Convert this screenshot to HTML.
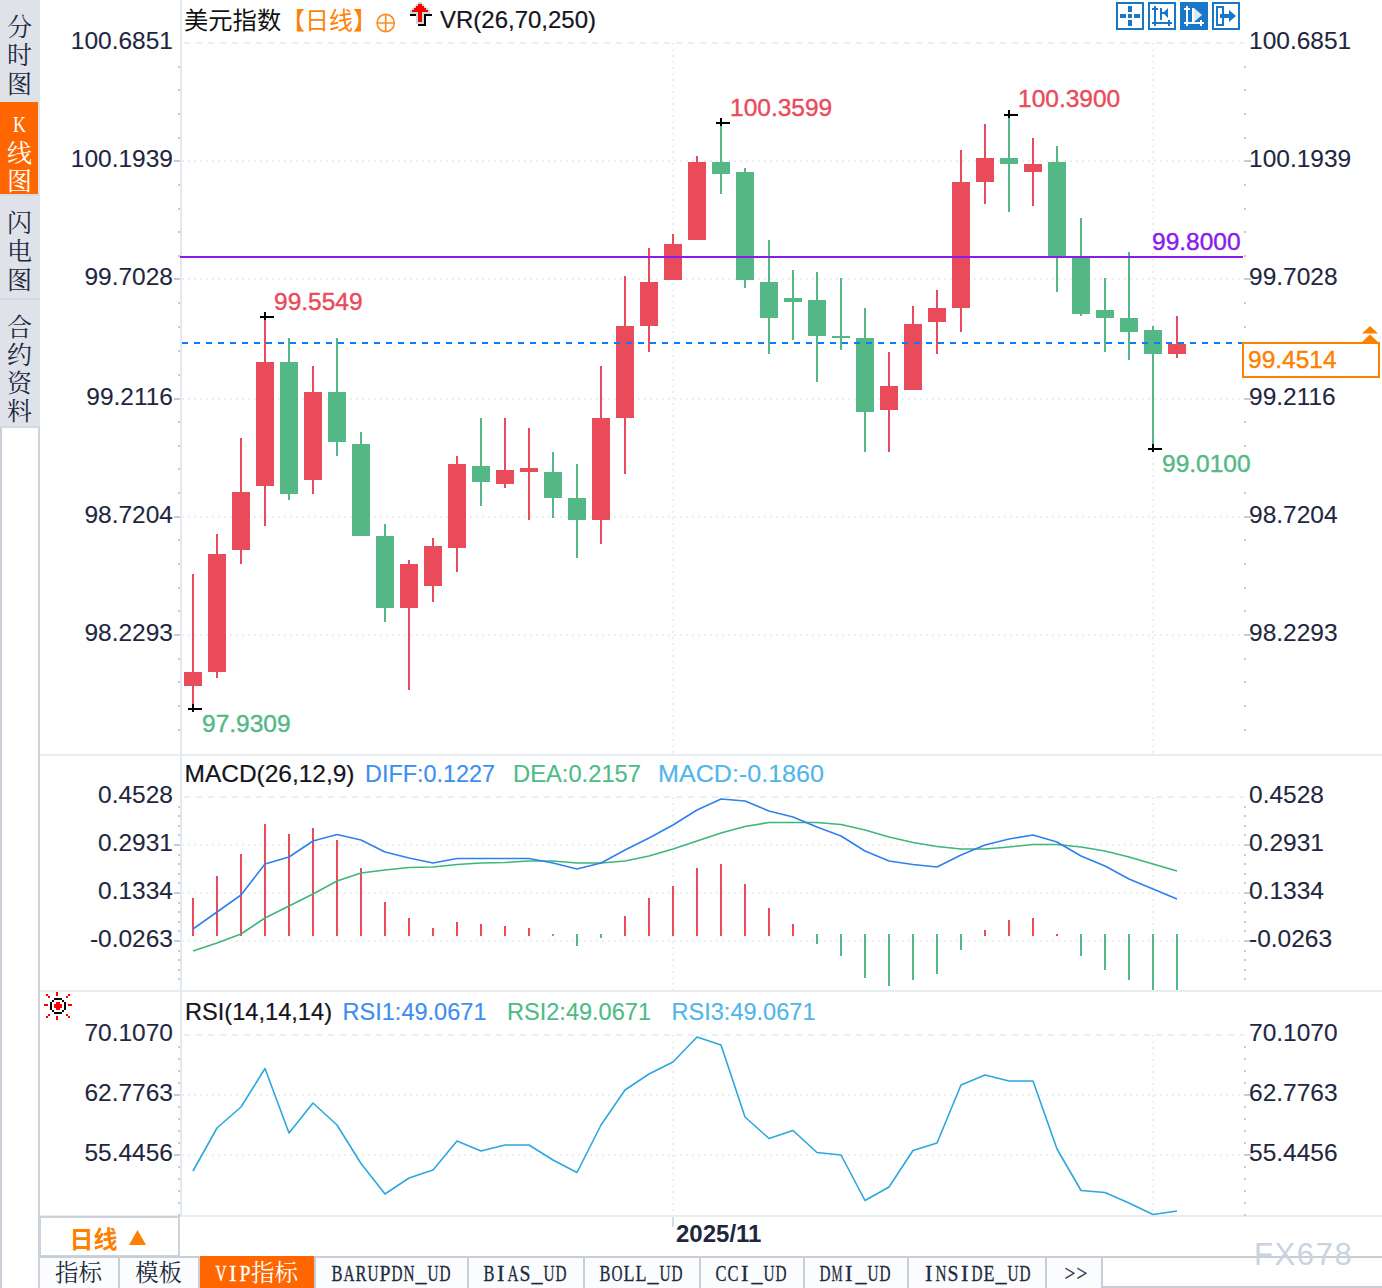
<!DOCTYPE html>
<html><head><meta charset="utf-8"><title>chart</title>
<style>html,body{margin:0;padding:0;background:#fff}svg{display:block}text{white-space:pre}</style></head>
<body><svg width="1382" height="1288" viewBox="0 0 1382 1288">
<rect x="0" y="0" width="1382" height="1288" fill="#ffffff"/>
<rect x="0" y="0" width="40" height="428" fill="#e0e2ea"/>
<rect x="0" y="428" width="2" height="860" fill="#cbced6"/>
<rect x="38" y="428" width="2" height="860" fill="#cfd2da"/>
<rect x="0" y="102" width="38" height="92" fill="#ff6600"/>
<rect x="0" y="194" width="40" height="2" fill="#d3dae4"/>
<rect x="0" y="298" width="40" height="2" fill="#d3dae4"/>
<rect x="0" y="426" width="40" height="2" fill="#d3dae4"/>
<g font-family="'Liberation Serif', 'Noto Serif CJK SC', serif" font-size="25" fill="#1e2a3e" text-anchor="middle">
<text x="19.5" y="36">分</text>
<text x="19.5" y="64">时</text>
<text x="19.5" y="92.5">图</text>
</g>
<text x="19.5" y="132" font-family="'Liberation Serif', serif" font-size="24" fill="#ffffff" text-anchor="middle" textLength="13" lengthAdjust="spacingAndGlyphs">K</text>
<g font-family="'Liberation Serif', 'Noto Serif CJK SC', serif" font-size="25" fill="#ffffff" text-anchor="middle">
<text x="19.5" y="162">线</text>
<text x="19.5" y="190">图</text>
</g>
<g font-family="'Liberation Serif', 'Noto Serif CJK SC', serif" font-size="25" fill="#1e2a3e" text-anchor="middle">
<text x="19.5" y="232">闪</text>
<text x="19.5" y="259.5">电</text>
<text x="19.5" y="288.5">图</text>
<text x="19.5" y="336">合</text>
<text x="19.5" y="364">约</text>
<text x="19.5" y="392">资</text>
<text x="19.5" y="420">料</text>
</g>
<line x1="182" y1="161" x2="1244" y2="161" stroke="#eaeff4" stroke-width="2" stroke-dasharray="2 4"/>
<line x1="182" y1="279" x2="1244" y2="279" stroke="#eaeff4" stroke-width="2" stroke-dasharray="2 4"/>
<line x1="182" y1="399" x2="1244" y2="399" stroke="#eaeff4" stroke-width="2" stroke-dasharray="2 4"/>
<line x1="182" y1="517" x2="1244" y2="517" stroke="#eaeff4" stroke-width="2" stroke-dasharray="2 4"/>
<line x1="182" y1="635" x2="1244" y2="635" stroke="#eaeff4" stroke-width="2" stroke-dasharray="2 4"/>
<line x1="182" y1="845" x2="1244" y2="845" stroke="#eaeff4" stroke-width="2" stroke-dasharray="2 4"/>
<line x1="182" y1="893" x2="1244" y2="893" stroke="#eaeff4" stroke-width="2" stroke-dasharray="2 4"/>
<line x1="182" y1="941" x2="1244" y2="941" stroke="#eaeff4" stroke-width="2" stroke-dasharray="2 4"/>
<line x1="182" y1="1095" x2="1244" y2="1095" stroke="#eaeff4" stroke-width="2" stroke-dasharray="2 4"/>
<line x1="182" y1="1155" x2="1244" y2="1155" stroke="#eaeff4" stroke-width="2" stroke-dasharray="2 4"/>
<line x1="184" y1="43" x2="1244" y2="43" stroke="#eaeff4" stroke-width="2" stroke-dasharray="6 6"/>
<line x1="184" y1="797" x2="1244" y2="797" stroke="#eaeff4" stroke-width="2" stroke-dasharray="6 6"/>
<line x1="184" y1="1035" x2="1244" y2="1035" stroke="#eaeff4" stroke-width="2" stroke-dasharray="6 6"/>
<line x1="673" y1="43" x2="673" y2="754" stroke="#eaeff4" stroke-width="2" stroke-dasharray="2 4"/>
<line x1="673" y1="797" x2="673" y2="990" stroke="#eaeff4" stroke-width="2" stroke-dasharray="2 4"/>
<line x1="673" y1="1035" x2="673" y2="1215" stroke="#eaeff4" stroke-width="2" stroke-dasharray="2 4"/>
<line x1="1153" y1="43" x2="1153" y2="754" stroke="#eaeff4" stroke-width="2" stroke-dasharray="2 4"/>
<line x1="1153" y1="797" x2="1153" y2="990" stroke="#eaeff4" stroke-width="2" stroke-dasharray="2 4"/>
<line x1="1153" y1="1035" x2="1153" y2="1215" stroke="#eaeff4" stroke-width="2" stroke-dasharray="2 4"/>
<rect x="40" y="754" width="1342" height="2" fill="#e8edf2"/>
<rect x="40" y="990" width="1342" height="2" fill="#e8edf2"/>
<rect x="40" y="1215" width="1342" height="2" fill="#e8edf2"/>
<rect x="180" y="0" width="2" height="1216" fill="#e3e9f0"/>
<rect x="178" y="66" width="2" height="2" fill="#c3cbd6"/>
<rect x="1244" y="66" width="2" height="2" fill="#c3cbd6"/>
<rect x="178" y="89" width="2" height="2" fill="#c3cbd6"/>
<rect x="1244" y="89" width="2" height="2" fill="#c3cbd6"/>
<rect x="178" y="113" width="2" height="2" fill="#c3cbd6"/>
<rect x="1244" y="113" width="2" height="2" fill="#c3cbd6"/>
<rect x="178" y="137" width="2" height="2" fill="#c3cbd6"/>
<rect x="1244" y="137" width="2" height="2" fill="#c3cbd6"/>
<rect x="174" y="160" width="6" height="2" fill="#c3cbd6"/>
<rect x="1244" y="160" width="7" height="2" fill="#c3cbd6"/>
<rect x="178" y="184" width="2" height="2" fill="#c3cbd6"/>
<rect x="1244" y="184" width="2" height="2" fill="#c3cbd6"/>
<rect x="178" y="208" width="2" height="2" fill="#c3cbd6"/>
<rect x="1244" y="208" width="2" height="2" fill="#c3cbd6"/>
<rect x="178" y="231" width="2" height="2" fill="#c3cbd6"/>
<rect x="1244" y="231" width="2" height="2" fill="#c3cbd6"/>
<rect x="178" y="255" width="2" height="2" fill="#c3cbd6"/>
<rect x="1244" y="255" width="2" height="2" fill="#c3cbd6"/>
<rect x="174" y="278" width="6" height="2" fill="#c3cbd6"/>
<rect x="1244" y="278" width="7" height="2" fill="#c3cbd6"/>
<rect x="178" y="302" width="2" height="2" fill="#c3cbd6"/>
<rect x="1244" y="302" width="2" height="2" fill="#c3cbd6"/>
<rect x="178" y="326" width="2" height="2" fill="#c3cbd6"/>
<rect x="1244" y="326" width="2" height="2" fill="#c3cbd6"/>
<rect x="178" y="350" width="2" height="2" fill="#c3cbd6"/>
<rect x="1244" y="350" width="2" height="2" fill="#c3cbd6"/>
<rect x="178" y="374" width="2" height="2" fill="#c3cbd6"/>
<rect x="1244" y="374" width="2" height="2" fill="#c3cbd6"/>
<rect x="174" y="398" width="6" height="2" fill="#c3cbd6"/>
<rect x="1244" y="398" width="7" height="2" fill="#c3cbd6"/>
<rect x="178" y="421" width="2" height="2" fill="#c3cbd6"/>
<rect x="1244" y="421" width="2" height="2" fill="#c3cbd6"/>
<rect x="178" y="445" width="2" height="2" fill="#c3cbd6"/>
<rect x="1244" y="445" width="2" height="2" fill="#c3cbd6"/>
<rect x="178" y="468" width="2" height="2" fill="#c3cbd6"/>
<rect x="1244" y="468" width="2" height="2" fill="#c3cbd6"/>
<rect x="178" y="492" width="2" height="2" fill="#c3cbd6"/>
<rect x="1244" y="492" width="2" height="2" fill="#c3cbd6"/>
<rect x="174" y="516" width="6" height="2" fill="#c3cbd6"/>
<rect x="1244" y="516" width="7" height="2" fill="#c3cbd6"/>
<rect x="178" y="539" width="2" height="2" fill="#c3cbd6"/>
<rect x="1244" y="539" width="2" height="2" fill="#c3cbd6"/>
<rect x="178" y="563" width="2" height="2" fill="#c3cbd6"/>
<rect x="1244" y="563" width="2" height="2" fill="#c3cbd6"/>
<rect x="178" y="587" width="2" height="2" fill="#c3cbd6"/>
<rect x="1244" y="587" width="2" height="2" fill="#c3cbd6"/>
<rect x="178" y="610" width="2" height="2" fill="#c3cbd6"/>
<rect x="1244" y="610" width="2" height="2" fill="#c3cbd6"/>
<rect x="174" y="634" width="6" height="2" fill="#c3cbd6"/>
<rect x="1244" y="634" width="7" height="2" fill="#c3cbd6"/>
<rect x="178" y="658" width="2" height="2" fill="#c3cbd6"/>
<rect x="1244" y="658" width="2" height="2" fill="#c3cbd6"/>
<rect x="178" y="681" width="2" height="2" fill="#c3cbd6"/>
<rect x="1244" y="681" width="2" height="2" fill="#c3cbd6"/>
<rect x="178" y="705" width="2" height="2" fill="#c3cbd6"/>
<rect x="1244" y="705" width="2" height="2" fill="#c3cbd6"/>
<rect x="178" y="729" width="2" height="2" fill="#c3cbd6"/>
<rect x="1244" y="729" width="2" height="2" fill="#c3cbd6"/>
<rect x="178" y="806" width="2" height="2" fill="#c3cbd6"/>
<rect x="1244" y="806" width="2" height="2" fill="#c3cbd6"/>
<rect x="178" y="815" width="2" height="2" fill="#c3cbd6"/>
<rect x="1244" y="815" width="2" height="2" fill="#c3cbd6"/>
<rect x="178" y="825" width="2" height="2" fill="#c3cbd6"/>
<rect x="1244" y="825" width="2" height="2" fill="#c3cbd6"/>
<rect x="178" y="834" width="2" height="2" fill="#c3cbd6"/>
<rect x="1244" y="834" width="2" height="2" fill="#c3cbd6"/>
<rect x="174" y="844" width="6" height="2" fill="#c3cbd6"/>
<rect x="1244" y="844" width="7" height="2" fill="#c3cbd6"/>
<rect x="178" y="854" width="2" height="2" fill="#c3cbd6"/>
<rect x="1244" y="854" width="2" height="2" fill="#c3cbd6"/>
<rect x="178" y="863" width="2" height="2" fill="#c3cbd6"/>
<rect x="1244" y="863" width="2" height="2" fill="#c3cbd6"/>
<rect x="178" y="873" width="2" height="2" fill="#c3cbd6"/>
<rect x="1244" y="873" width="2" height="2" fill="#c3cbd6"/>
<rect x="178" y="882" width="2" height="2" fill="#c3cbd6"/>
<rect x="1244" y="882" width="2" height="2" fill="#c3cbd6"/>
<rect x="174" y="892" width="6" height="2" fill="#c3cbd6"/>
<rect x="1244" y="892" width="7" height="2" fill="#c3cbd6"/>
<rect x="178" y="902" width="2" height="2" fill="#c3cbd6"/>
<rect x="1244" y="902" width="2" height="2" fill="#c3cbd6"/>
<rect x="178" y="911" width="2" height="2" fill="#c3cbd6"/>
<rect x="1244" y="911" width="2" height="2" fill="#c3cbd6"/>
<rect x="178" y="921" width="2" height="2" fill="#c3cbd6"/>
<rect x="1244" y="921" width="2" height="2" fill="#c3cbd6"/>
<rect x="178" y="930" width="2" height="2" fill="#c3cbd6"/>
<rect x="1244" y="930" width="2" height="2" fill="#c3cbd6"/>
<rect x="174" y="940" width="6" height="2" fill="#c3cbd6"/>
<rect x="1244" y="940" width="7" height="2" fill="#c3cbd6"/>
<rect x="178" y="950" width="2" height="2" fill="#c3cbd6"/>
<rect x="1244" y="950" width="2" height="2" fill="#c3cbd6"/>
<rect x="178" y="959" width="2" height="2" fill="#c3cbd6"/>
<rect x="1244" y="959" width="2" height="2" fill="#c3cbd6"/>
<rect x="178" y="969" width="2" height="2" fill="#c3cbd6"/>
<rect x="1244" y="969" width="2" height="2" fill="#c3cbd6"/>
<rect x="178" y="978" width="2" height="2" fill="#c3cbd6"/>
<rect x="1244" y="978" width="2" height="2" fill="#c3cbd6"/>
<rect x="178" y="1046" width="2" height="2" fill="#c3cbd6"/>
<rect x="1244" y="1046" width="2" height="2" fill="#c3cbd6"/>
<rect x="178" y="1058" width="2" height="2" fill="#c3cbd6"/>
<rect x="1244" y="1058" width="2" height="2" fill="#c3cbd6"/>
<rect x="178" y="1070" width="2" height="2" fill="#c3cbd6"/>
<rect x="1244" y="1070" width="2" height="2" fill="#c3cbd6"/>
<rect x="178" y="1082" width="2" height="2" fill="#c3cbd6"/>
<rect x="1244" y="1082" width="2" height="2" fill="#c3cbd6"/>
<rect x="174" y="1094" width="6" height="2" fill="#c3cbd6"/>
<rect x="1244" y="1094" width="7" height="2" fill="#c3cbd6"/>
<rect x="178" y="1106" width="2" height="2" fill="#c3cbd6"/>
<rect x="1244" y="1106" width="2" height="2" fill="#c3cbd6"/>
<rect x="178" y="1118" width="2" height="2" fill="#c3cbd6"/>
<rect x="1244" y="1118" width="2" height="2" fill="#c3cbd6"/>
<rect x="178" y="1130" width="2" height="2" fill="#c3cbd6"/>
<rect x="1244" y="1130" width="2" height="2" fill="#c3cbd6"/>
<rect x="178" y="1142" width="2" height="2" fill="#c3cbd6"/>
<rect x="1244" y="1142" width="2" height="2" fill="#c3cbd6"/>
<rect x="174" y="1154" width="6" height="2" fill="#c3cbd6"/>
<rect x="1244" y="1154" width="7" height="2" fill="#c3cbd6"/>
<rect x="178" y="1166" width="2" height="2" fill="#c3cbd6"/>
<rect x="1244" y="1166" width="2" height="2" fill="#c3cbd6"/>
<rect x="178" y="1178" width="2" height="2" fill="#c3cbd6"/>
<rect x="1244" y="1178" width="2" height="2" fill="#c3cbd6"/>
<rect x="178" y="1190" width="2" height="2" fill="#c3cbd6"/>
<rect x="1244" y="1190" width="2" height="2" fill="#c3cbd6"/>
<rect x="178" y="1202" width="2" height="2" fill="#c3cbd6"/>
<rect x="1244" y="1202" width="2" height="2" fill="#c3cbd6"/>
<rect x="178" y="1214" width="2" height="2" fill="#c3cbd6"/>
<rect x="1244" y="1214" width="2" height="2" fill="#c3cbd6"/>
<rect x="192" y="574" width="2" height="134" fill="#e94b5b"/>
<rect x="184" y="672" width="18" height="14" fill="#e94b5b"/>
<rect x="216" y="534" width="2" height="144" fill="#e94b5b"/>
<rect x="208" y="554" width="18" height="118" fill="#e94b5b"/>
<rect x="240" y="438" width="2" height="126" fill="#e94b5b"/>
<rect x="232" y="492" width="18" height="58" fill="#e94b5b"/>
<rect x="264" y="317" width="2" height="209" fill="#e94b5b"/>
<rect x="256" y="362" width="18" height="124" fill="#e94b5b"/>
<rect x="288" y="338" width="2" height="162" fill="#54b886"/>
<rect x="280" y="362" width="18" height="132" fill="#54b886"/>
<rect x="312" y="366" width="2" height="128" fill="#e94b5b"/>
<rect x="304" y="392" width="18" height="88" fill="#e94b5b"/>
<rect x="336" y="338" width="2" height="118" fill="#54b886"/>
<rect x="328" y="392" width="18" height="50" fill="#54b886"/>
<rect x="360" y="432" width="2" height="104" fill="#54b886"/>
<rect x="352" y="444" width="18" height="92" fill="#54b886"/>
<rect x="384" y="524" width="2" height="98" fill="#54b886"/>
<rect x="376" y="536" width="18" height="72" fill="#54b886"/>
<rect x="408" y="560" width="2" height="130" fill="#e94b5b"/>
<rect x="400" y="564" width="18" height="44" fill="#e94b5b"/>
<rect x="432" y="538" width="2" height="64" fill="#e94b5b"/>
<rect x="424" y="546" width="18" height="40" fill="#e94b5b"/>
<rect x="456" y="456" width="2" height="116" fill="#e94b5b"/>
<rect x="448" y="464" width="18" height="84" fill="#e94b5b"/>
<rect x="480" y="418" width="2" height="88" fill="#54b886"/>
<rect x="472" y="466" width="18" height="16" fill="#54b886"/>
<rect x="504" y="418" width="2" height="70" fill="#e94b5b"/>
<rect x="496" y="470" width="18" height="14" fill="#e94b5b"/>
<rect x="528" y="428" width="2" height="92" fill="#e94b5b"/>
<rect x="520" y="468" width="18" height="4" fill="#e94b5b"/>
<rect x="552" y="452" width="2" height="66" fill="#54b886"/>
<rect x="544" y="472" width="18" height="26" fill="#54b886"/>
<rect x="576" y="464" width="2" height="94" fill="#54b886"/>
<rect x="568" y="498" width="18" height="22" fill="#54b886"/>
<rect x="600" y="366" width="2" height="178" fill="#e94b5b"/>
<rect x="592" y="418" width="18" height="102" fill="#e94b5b"/>
<rect x="624" y="276" width="2" height="198" fill="#e94b5b"/>
<rect x="616" y="326" width="18" height="92" fill="#e94b5b"/>
<rect x="648" y="248" width="2" height="104" fill="#e94b5b"/>
<rect x="640" y="282" width="18" height="44" fill="#e94b5b"/>
<rect x="672" y="234" width="2" height="46" fill="#e94b5b"/>
<rect x="664" y="244" width="18" height="36" fill="#e94b5b"/>
<rect x="696" y="156" width="2" height="84" fill="#e94b5b"/>
<rect x="688" y="162" width="18" height="78" fill="#e94b5b"/>
<rect x="720" y="123" width="2" height="71" fill="#54b886"/>
<rect x="712" y="162" width="18" height="12" fill="#54b886"/>
<rect x="744" y="168" width="2" height="120" fill="#54b886"/>
<rect x="736" y="172" width="18" height="108" fill="#54b886"/>
<rect x="768" y="240" width="2" height="114" fill="#54b886"/>
<rect x="760" y="282" width="18" height="36" fill="#54b886"/>
<rect x="792" y="270" width="2" height="70" fill="#54b886"/>
<rect x="784" y="298" width="18" height="4" fill="#54b886"/>
<rect x="816" y="272" width="2" height="110" fill="#54b886"/>
<rect x="808" y="300" width="18" height="36" fill="#54b886"/>
<rect x="840" y="278" width="2" height="72" fill="#54b886"/>
<rect x="832" y="336" width="18" height="2" fill="#54b886"/>
<rect x="864" y="308" width="2" height="144" fill="#54b886"/>
<rect x="856" y="338" width="18" height="74" fill="#54b886"/>
<rect x="888" y="352" width="2" height="100" fill="#e94b5b"/>
<rect x="880" y="386" width="18" height="24" fill="#e94b5b"/>
<rect x="912" y="306" width="2" height="84" fill="#e94b5b"/>
<rect x="904" y="324" width="18" height="66" fill="#e94b5b"/>
<rect x="936" y="290" width="2" height="64" fill="#e94b5b"/>
<rect x="928" y="308" width="18" height="14" fill="#e94b5b"/>
<rect x="960" y="150" width="2" height="182" fill="#e94b5b"/>
<rect x="952" y="182" width="18" height="126" fill="#e94b5b"/>
<rect x="984" y="124" width="2" height="80" fill="#e94b5b"/>
<rect x="976" y="158" width="18" height="24" fill="#e94b5b"/>
<rect x="1008" y="115" width="2" height="97" fill="#54b886"/>
<rect x="1000" y="158" width="18" height="6" fill="#54b886"/>
<rect x="1032" y="138" width="2" height="68" fill="#e94b5b"/>
<rect x="1024" y="164" width="18" height="8" fill="#e94b5b"/>
<rect x="1056" y="146" width="2" height="146" fill="#54b886"/>
<rect x="1048" y="162" width="18" height="94" fill="#54b886"/>
<rect x="1080" y="218" width="2" height="98" fill="#54b886"/>
<rect x="1072" y="257" width="18" height="57" fill="#54b886"/>
<rect x="1104" y="278" width="2" height="74" fill="#54b886"/>
<rect x="1096" y="310" width="18" height="8" fill="#54b886"/>
<rect x="1128" y="252" width="2" height="108" fill="#54b886"/>
<rect x="1120" y="318" width="18" height="14" fill="#54b886"/>
<rect x="1152" y="326" width="2" height="123" fill="#54b886"/>
<rect x="1144" y="330" width="18" height="24" fill="#54b886"/>
<rect x="1176" y="316" width="2" height="42" fill="#e94b5b"/>
<rect x="1168" y="344" width="18" height="10" fill="#e94b5b"/>
<rect x="180" y="256" width="1063" height="2" fill="#8a1be8"/>
<line x1="182" y1="343" x2="1242" y2="343" stroke="#0a7ef6" stroke-width="2" stroke-dasharray="6 6"/>
<rect x="260" y="316" width="14" height="2" fill="#000"/>
<rect x="264" y="312" width="2" height="8" fill="#000"/>
<rect x="716" y="122" width="14" height="2" fill="#000"/>
<rect x="720" y="118" width="2" height="8" fill="#000"/>
<rect x="1004" y="114" width="14" height="2" fill="#000"/>
<rect x="1008" y="110" width="2" height="8" fill="#000"/>
<rect x="1148" y="448" width="14" height="2" fill="#000"/>
<rect x="1152" y="444" width="2" height="8" fill="#000"/>
<rect x="188" y="708" width="14" height="2" fill="#000"/>
<rect x="192" y="704" width="2" height="8" fill="#000"/>
<rect x="192" y="898" width="2" height="38" fill="#e94b5b"/>
<rect x="216" y="876" width="2" height="60" fill="#e94b5b"/>
<rect x="240" y="854" width="2" height="82" fill="#e94b5b"/>
<rect x="264" y="824" width="2" height="112" fill="#e94b5b"/>
<rect x="288" y="834" width="2" height="102" fill="#e94b5b"/>
<rect x="312" y="828" width="2" height="108" fill="#e94b5b"/>
<rect x="336" y="840" width="2" height="96" fill="#e94b5b"/>
<rect x="360" y="868" width="2" height="68" fill="#e94b5b"/>
<rect x="384" y="902" width="2" height="34" fill="#e94b5b"/>
<rect x="408" y="918" width="2" height="18" fill="#e94b5b"/>
<rect x="432" y="928" width="2" height="8" fill="#e94b5b"/>
<rect x="456" y="922" width="2" height="14" fill="#e94b5b"/>
<rect x="480" y="924" width="2" height="12" fill="#e94b5b"/>
<rect x="504" y="926" width="2" height="10" fill="#e94b5b"/>
<rect x="528" y="928" width="2" height="8" fill="#e94b5b"/>
<rect x="552" y="934" width="2" height="2" fill="#54b886"/>
<rect x="576" y="934" width="2" height="12" fill="#54b886"/>
<rect x="600" y="934" width="2" height="4" fill="#54b886"/>
<rect x="624" y="916" width="2" height="20" fill="#e94b5b"/>
<rect x="648" y="898" width="2" height="38" fill="#e94b5b"/>
<rect x="672" y="886" width="2" height="50" fill="#e94b5b"/>
<rect x="696" y="868" width="2" height="68" fill="#e94b5b"/>
<rect x="720" y="864" width="2" height="72" fill="#e94b5b"/>
<rect x="744" y="884" width="2" height="52" fill="#e94b5b"/>
<rect x="768" y="908" width="2" height="28" fill="#e94b5b"/>
<rect x="792" y="924" width="2" height="12" fill="#e94b5b"/>
<rect x="816" y="934" width="2" height="10" fill="#54b886"/>
<rect x="840" y="934" width="2" height="22" fill="#54b886"/>
<rect x="864" y="934" width="2" height="44" fill="#54b886"/>
<rect x="888" y="934" width="2" height="52" fill="#54b886"/>
<rect x="912" y="934" width="2" height="46" fill="#54b886"/>
<rect x="936" y="934" width="2" height="40" fill="#54b886"/>
<rect x="960" y="934" width="2" height="16" fill="#54b886"/>
<rect x="984" y="930" width="2" height="6" fill="#e94b5b"/>
<rect x="1008" y="920" width="2" height="16" fill="#e94b5b"/>
<rect x="1032" y="918" width="2" height="18" fill="#e94b5b"/>
<rect x="1056" y="934" width="2" height="2" fill="#e94b5b"/>
<rect x="1080" y="934" width="2" height="22" fill="#54b886"/>
<rect x="1104" y="934" width="2" height="36" fill="#54b886"/>
<rect x="1128" y="934" width="2" height="46" fill="#54b886"/>
<rect x="1152" y="934" width="2" height="56" fill="#54b886"/>
<rect x="1176" y="934" width="2" height="56" fill="#54b886"/>
<polyline points="193,951 217,943 241,934 265,918 289,906 313,894 337,881 361,873 385,870 409,867.5 433,867 457,864.5 481,863 505,862.5 529,861 553,861 577,863 601,863 625,861 649,856 673,849 697,841 721,833 745,826.5 769,822.5 793,822.5 817,822.5 841,824.5 865,830 889,837 913,842.5 937,846.5 961,849 985,849 1009,847 1033,844.5 1057,844.5 1081,847 1105,851 1129,857 1153,864 1177,871" fill="none" stroke="#3fb57a" stroke-width="1.6" stroke-linejoin="round"/>
<polyline points="193,929 217,912 241,895 265,864 289,857 313,841 337,834.5 361,840 385,852 409,858 433,863 457,858.5 481,858.5 505,858.5 529,858.5 553,863 577,869 601,863 625,850 649,838 673,825 697,810 721,799 745,801 769,811 793,817 817,827 841,836 865,851 889,861 913,864.5 937,867 961,855 985,845 1009,839 1033,835 1057,842 1081,856 1105,866 1129,879 1153,889 1177,899" fill="none" stroke="#2f80ee" stroke-width="1.6" stroke-linejoin="round"/>
<polyline points="193,1171 217,1128 241,1107 265,1068.5 289,1133 313,1103 337,1125 361,1163.5 385,1194 409,1178 433,1170 457,1141 481,1151 505,1145 529,1145 553,1160 577,1172.5 601,1125 625,1090 649,1074 673,1062 697,1037 721,1045 745,1117 769,1138.5 793,1130.5 817,1152.5 841,1155 865,1200.5 889,1187 913,1150.5 937,1143 961,1085 985,1075 1009,1081 1033,1081 1057,1149 1081,1190.5 1105,1192.5 1129,1203 1153,1214.5 1177,1211" fill="none" stroke="#2ea6de" stroke-width="1.6" stroke-linejoin="round"/>
<text x="173" y="49" font-family="'Liberation Sans', sans-serif" font-size="24.5" fill="#1f2740" text-anchor="end" font-weight="normal" stroke="#1f2740" stroke-width="0.1">100.6851</text>
<text x="1249" y="49" font-family="'Liberation Sans', sans-serif" font-size="24.5" fill="#1f2740" text-anchor="start" font-weight="normal" stroke="#1f2740" stroke-width="0.1">100.6851</text>
<text x="173" y="167" font-family="'Liberation Sans', sans-serif" font-size="24.5" fill="#1f2740" text-anchor="end" font-weight="normal" stroke="#1f2740" stroke-width="0.1">100.1939</text>
<text x="1249" y="167" font-family="'Liberation Sans', sans-serif" font-size="24.5" fill="#1f2740" text-anchor="start" font-weight="normal" stroke="#1f2740" stroke-width="0.1">100.1939</text>
<text x="173" y="285" font-family="'Liberation Sans', sans-serif" font-size="24.5" fill="#1f2740" text-anchor="end" font-weight="normal" stroke="#1f2740" stroke-width="0.1">99.7028</text>
<text x="1249" y="285" font-family="'Liberation Sans', sans-serif" font-size="24.5" fill="#1f2740" text-anchor="start" font-weight="normal" stroke="#1f2740" stroke-width="0.1">99.7028</text>
<text x="173" y="405" font-family="'Liberation Sans', sans-serif" font-size="24.5" fill="#1f2740" text-anchor="end" font-weight="normal" stroke="#1f2740" stroke-width="0.1">99.2116</text>
<text x="1249" y="405" font-family="'Liberation Sans', sans-serif" font-size="24.5" fill="#1f2740" text-anchor="start" font-weight="normal" stroke="#1f2740" stroke-width="0.1">99.2116</text>
<text x="173" y="523" font-family="'Liberation Sans', sans-serif" font-size="24.5" fill="#1f2740" text-anchor="end" font-weight="normal" stroke="#1f2740" stroke-width="0.1">98.7204</text>
<text x="1249" y="523" font-family="'Liberation Sans', sans-serif" font-size="24.5" fill="#1f2740" text-anchor="start" font-weight="normal" stroke="#1f2740" stroke-width="0.1">98.7204</text>
<text x="173" y="641" font-family="'Liberation Sans', sans-serif" font-size="24.5" fill="#1f2740" text-anchor="end" font-weight="normal" stroke="#1f2740" stroke-width="0.1">98.2293</text>
<text x="1249" y="641" font-family="'Liberation Sans', sans-serif" font-size="24.5" fill="#1f2740" text-anchor="start" font-weight="normal" stroke="#1f2740" stroke-width="0.1">98.2293</text>
<text x="173" y="803" font-family="'Liberation Sans', sans-serif" font-size="24.5" fill="#1f2740" text-anchor="end" font-weight="normal" stroke="#1f2740" stroke-width="0.1">0.4528</text>
<text x="1249" y="803" font-family="'Liberation Sans', sans-serif" font-size="24.5" fill="#1f2740" text-anchor="start" font-weight="normal" stroke="#1f2740" stroke-width="0.1">0.4528</text>
<text x="173" y="851" font-family="'Liberation Sans', sans-serif" font-size="24.5" fill="#1f2740" text-anchor="end" font-weight="normal" stroke="#1f2740" stroke-width="0.1">0.2931</text>
<text x="1249" y="851" font-family="'Liberation Sans', sans-serif" font-size="24.5" fill="#1f2740" text-anchor="start" font-weight="normal" stroke="#1f2740" stroke-width="0.1">0.2931</text>
<text x="173" y="899" font-family="'Liberation Sans', sans-serif" font-size="24.5" fill="#1f2740" text-anchor="end" font-weight="normal" stroke="#1f2740" stroke-width="0.1">0.1334</text>
<text x="1249" y="899" font-family="'Liberation Sans', sans-serif" font-size="24.5" fill="#1f2740" text-anchor="start" font-weight="normal" stroke="#1f2740" stroke-width="0.1">0.1334</text>
<text x="173" y="947" font-family="'Liberation Sans', sans-serif" font-size="24.5" fill="#1f2740" text-anchor="end" font-weight="normal" stroke="#1f2740" stroke-width="0.1">-0.0263</text>
<text x="1249" y="947" font-family="'Liberation Sans', sans-serif" font-size="24.5" fill="#1f2740" text-anchor="start" font-weight="normal" stroke="#1f2740" stroke-width="0.1">-0.0263</text>
<text x="173" y="1041" font-family="'Liberation Sans', sans-serif" font-size="24.5" fill="#1f2740" text-anchor="end" font-weight="normal" stroke="#1f2740" stroke-width="0.1">70.1070</text>
<text x="1249" y="1041" font-family="'Liberation Sans', sans-serif" font-size="24.5" fill="#1f2740" text-anchor="start" font-weight="normal" stroke="#1f2740" stroke-width="0.1">70.1070</text>
<text x="173" y="1101" font-family="'Liberation Sans', sans-serif" font-size="24.5" fill="#1f2740" text-anchor="end" font-weight="normal" stroke="#1f2740" stroke-width="0.1">62.7763</text>
<text x="1249" y="1101" font-family="'Liberation Sans', sans-serif" font-size="24.5" fill="#1f2740" text-anchor="start" font-weight="normal" stroke="#1f2740" stroke-width="0.1">62.7763</text>
<text x="173" y="1161" font-family="'Liberation Sans', sans-serif" font-size="24.5" fill="#1f2740" text-anchor="end" font-weight="normal" stroke="#1f2740" stroke-width="0.1">55.4456</text>
<text x="1249" y="1161" font-family="'Liberation Sans', sans-serif" font-size="24.5" fill="#1f2740" text-anchor="start" font-weight="normal" stroke="#1f2740" stroke-width="0.1">55.4456</text>
<text x="730" y="116" font-family="'Liberation Sans', sans-serif" font-size="24.5" fill="#e94b5b" text-anchor="start" font-weight="normal" stroke="#e94b5b" stroke-width="0.4">100.3599</text>
<text x="1018" y="107" font-family="'Liberation Sans', sans-serif" font-size="24.5" fill="#e94b5b" text-anchor="start" font-weight="normal" stroke="#e94b5b" stroke-width="0.4">100.3900</text>
<text x="274" y="310" font-family="'Liberation Sans', sans-serif" font-size="24.5" fill="#e94b5b" text-anchor="start" font-weight="normal" stroke="#e94b5b" stroke-width="0.4">99.5549</text>
<text x="202" y="732" font-family="'Liberation Sans', sans-serif" font-size="24.5" fill="#54b886" text-anchor="start" font-weight="normal" stroke="#54b886" stroke-width="0.4">97.9309</text>
<text x="1162" y="472" font-family="'Liberation Sans', sans-serif" font-size="24.5" fill="#54b886" text-anchor="start" font-weight="normal" stroke="#54b886" stroke-width="0.4">99.0100</text>
<text x="1152" y="250" font-family="'Liberation Sans', sans-serif" font-size="24.5" fill="#8a1be8" text-anchor="start" font-weight="normal" stroke="#8a1be8" stroke-width="0.4">99.8000</text>
<rect x="1243" y="343" width="136" height="34" fill="#ffffff" stroke="#ff7f00" stroke-width="2"/>
<text x="1248" y="367.5" font-family="'Liberation Sans', sans-serif" font-size="24.5" fill="#ff7f00" text-anchor="start" font-weight="normal" stroke="#ff7f00" stroke-width="0.4">99.4514</text>
<path d="M1370 326 L1378 333.5 L1362 333.5 Z M1370 334.5 L1378 342 L1362 342 Z" fill="#ff7f00"/>
<text x="184" y="28.5" font-family="'Liberation Sans', 'Noto Sans CJK SC', sans-serif" font-size="24.3" fill="#111111">美元指数</text>
<text x="281" y="28.5" font-family="'Liberation Sans', 'Noto Sans CJK SC', sans-serif" font-size="24" fill="#ff8208">【日线】</text>
<g fill="none" stroke="#ff8a1a" stroke-width="1.6"><circle cx="385.7" cy="23" r="8.6"/><path d="M377 23H394.4M385.7 14.4V31.6"/></g>
<rect x="418" y="2" width="4" height="2" fill="#c9d9dc"/>
<rect x="416" y="4" width="8" height="2" fill="#c9d9dc"/>
<rect x="414" y="6" width="12" height="2" fill="#c9d9dc"/>
<rect x="412" y="8" width="16" height="2" fill="#c9d9dc"/>
<rect x="410" y="10" width="20" height="4" fill="#c9d9dc"/>
<rect x="416" y="14" width="8" height="10" fill="#c9d9dc"/>
<rect x="418" y="4" width="4" height="2" fill="#fe0000"/>
<rect x="416" y="6" width="8" height="2" fill="#fe0000"/>
<rect x="414" y="8" width="12" height="2" fill="#fe0000"/>
<rect x="412" y="10" width="16" height="2" fill="#fe0000"/>
<rect x="418" y="12" width="4" height="10" fill="#fe0000"/>
<rect x="410" y="14" width="6" height="2" fill="#000000"/>
<rect x="424" y="14" width="8" height="2" fill="#000000"/>
<rect x="424" y="16" width="2" height="10" fill="#000000"/>
<rect x="418" y="24" width="8" height="2" fill="#000000"/>
<text x="440" y="27.5" font-family="'Liberation Sans', sans-serif" font-size="24.5" fill="#141420" text-anchor="start" font-weight="normal" textLength="156" lengthAdjust="spacingAndGlyphs" stroke="#141420" stroke-width="0.2">VR(26,70,250)</text>
<text x="184.5" y="782" font-family="'Liberation Sans', sans-serif" font-size="24.5" fill="#141420" text-anchor="start" font-weight="normal" textLength="170" lengthAdjust="spacingAndGlyphs" stroke="#141420" stroke-width="0.2">MACD(26,12,9)</text>
<text x="365" y="782" font-family="'Liberation Sans', sans-serif" font-size="24.5" fill="#3d8df2" text-anchor="start" font-weight="normal" textLength="130" lengthAdjust="spacingAndGlyphs" stroke="#3d8df2" stroke-width="0.15">DIFF:0.1227</text>
<text x="513" y="782" font-family="'Liberation Sans', sans-serif" font-size="24.5" fill="#4dbb86" text-anchor="start" font-weight="normal" textLength="128" lengthAdjust="spacingAndGlyphs" stroke="#4dbb86" stroke-width="0.15">DEA:0.2157</text>
<text x="658" y="782" font-family="'Liberation Sans', sans-serif" font-size="24.5" fill="#52b4ea" text-anchor="start" font-weight="normal" textLength="166" lengthAdjust="spacingAndGlyphs" stroke="#52b4ea" stroke-width="0.15">MACD:-0.1860</text>
<text x="185" y="1020" font-family="'Liberation Sans', sans-serif" font-size="24.5" fill="#141420" text-anchor="start" font-weight="normal" textLength="147" lengthAdjust="spacingAndGlyphs" stroke="#141420" stroke-width="0.2">RSI(14,14,14)</text>
<text x="342.5" y="1020" font-family="'Liberation Sans', sans-serif" font-size="24.5" fill="#3d8df2" text-anchor="start" font-weight="normal" textLength="144" lengthAdjust="spacingAndGlyphs" stroke="#3d8df2" stroke-width="0.15">RSI1:49.0671</text>
<text x="507" y="1020" font-family="'Liberation Sans', sans-serif" font-size="24.5" fill="#4dbb86" text-anchor="start" font-weight="normal" textLength="144" lengthAdjust="spacingAndGlyphs" stroke="#4dbb86" stroke-width="0.15">RSI2:49.0671</text>
<text x="671.5" y="1020" font-family="'Liberation Sans', sans-serif" font-size="24.5" fill="#52b4ea" text-anchor="start" font-weight="normal" textLength="144" lengthAdjust="spacingAndGlyphs" stroke="#52b4ea" stroke-width="0.15">RSI3:49.0671</text>
<rect x="54" y="998" width="8" height="2" fill="#000000"/>
<rect x="52" y="1000" width="2" height="2" fill="#000000"/>
<rect x="62" y="1000" width="2" height="2" fill="#000000"/>
<rect x="50" y="1002" width="2" height="8" fill="#000000"/>
<rect x="64" y="1002" width="2" height="8" fill="#000000"/>
<rect x="52" y="1010" width="2" height="2" fill="#000000"/>
<rect x="62" y="1010" width="2" height="2" fill="#000000"/>
<rect x="54" y="1012" width="8" height="2" fill="#000000"/>
<rect x="56" y="1002" width="4" height="8" fill="#ff0000"/>
<rect x="54" y="1004" width="8" height="4" fill="#ff0000"/>
<rect x="56" y="992" width="2" height="4" fill="#ff0000"/>
<rect x="56" y="1016" width="2" height="4" fill="#ff0000"/>
<rect x="44" y="1004" width="4" height="2" fill="#ff0000"/>
<rect x="68" y="1004" width="4" height="2" fill="#ff0000"/>
<rect x="46" y="994" width="2" height="2" fill="#ff0000"/>
<rect x="48" y="996" width="2" height="2" fill="#ff0000"/>
<rect x="68" y="994" width="2" height="2" fill="#ff0000"/>
<rect x="66" y="996" width="2" height="2" fill="#ff0000"/>
<rect x="48" y="1014" width="2" height="2" fill="#ff0000"/>
<rect x="46" y="1016" width="2" height="2" fill="#ff0000"/>
<rect x="66" y="1014" width="2" height="2" fill="#ff0000"/>
<rect x="68" y="1016" width="2" height="2" fill="#ff0000"/>
<rect x="1117" y="3" width="26" height="26" fill="#fff" stroke="#1877c9" stroke-width="2"/>
<rect x="1149" y="3" width="26" height="26" fill="#fff" stroke="#1877c9" stroke-width="2"/>
<rect x="1181" y="3" width="26" height="26" fill="#1877c9" stroke="#1877c9" stroke-width="2"/>
<rect x="1213" y="3" width="26" height="26" fill="#fff" stroke="#1877c9" stroke-width="2"/>
<rect x="1128" y="6" width="4" height="6" fill="#1877c9"/>
<rect x="1128" y="14" width="4" height="4" fill="#1877c9"/>
<rect x="1128" y="20" width="4" height="6" fill="#1877c9"/>
<rect x="1120" y="14" width="6" height="4" fill="#1877c9"/>
<rect x="1134" y="14" width="6" height="4" fill="#1877c9"/>
<rect x="1154" y="6" width="2" height="20" fill="#1877c9"/>
<rect x="1152" y="8" width="6" height="2" fill="#1877c9"/>
<rect x="1152" y="22" width="20" height="2" fill="#1877c9"/>
<rect x="1168" y="20" width="2" height="6" fill="#1877c9"/>
<rect x="1160" y="8" width="2" height="12" fill="#1877c9"/>
<rect x="1162" y="12" width="3" height="2" fill="#1877c9"/>
<path d="M1168 8 V18 L1163 13 Z" fill="#1877c9"/>
<rect x="1186" y="6" width="2" height="20" fill="#fff"/>
<rect x="1184" y="8" width="6" height="2" fill="#fff"/>
<rect x="1184" y="22" width="20" height="2" fill="#fff"/>
<rect x="1200" y="20" width="2" height="6" fill="#fff"/>
<rect x="1192" y="8" width="2" height="14" fill="#fff"/>
<path d="M1194 8 L1202 15 L1194 22 Z" fill="#fff" fill-opacity="0.85"/>
<rect x="1217" y="7" width="6" height="18" fill="none" stroke="#1877c9" stroke-width="2"/>
<rect x="1220" y="14" width="10" height="4" fill="#1877c9"/>
<path d="M1229 10 L1236 16 L1229 22 Z" fill="#1877c9"/>
<rect x="672" y="1217" width="2" height="10" fill="#d5dce5"/>
<text x="676" y="1242" font-family="'Liberation Sans', sans-serif" font-size="24" fill="#1f2740" text-anchor="start" font-weight="bold">2025/11</text>
<rect x="40" y="1217" width="139" height="39" fill="#ffffff" stroke="#cdd3db" stroke-width="2"/>
<rect x="38" y="1216" width="3" height="42" fill="#cdd2da"/>
<text x="69.5" y="1248" font-family="'Liberation Sans', 'Noto Sans CJK SC', sans-serif" font-size="24" font-weight="bold" fill="#ff7f00">日线</text>
<path d="M137.5 1230 L146 1245 L129 1245 Z" fill="#ff7f00"/>
<rect x="40" y="1256" width="1062" height="32" fill="#fbfcfd"/>
<rect x="40" y="1256" width="1342" height="2" fill="#c9ced6"/>
<rect x="1102" y="1286" width="280" height="2" fill="#c9ced6"/>
<rect x="200" y="1256" width="114" height="32" fill="#ff6600"/>
<rect x="118" y="1258" width="2" height="30" fill="#c9ced6"/>
<rect x="198" y="1258" width="2" height="30" fill="#c9ced6"/>
<rect x="314" y="1258" width="2" height="30" fill="#c9ced6"/>
<rect x="467" y="1258" width="2" height="30" fill="#c9ced6"/>
<rect x="583" y="1258" width="2" height="30" fill="#c9ced6"/>
<rect x="699" y="1258" width="2" height="30" fill="#c9ced6"/>
<rect x="803" y="1258" width="2" height="30" fill="#c9ced6"/>
<rect x="907" y="1258" width="2" height="30" fill="#c9ced6"/>
<rect x="1045" y="1258" width="2" height="30" fill="#c9ced6"/>
<rect x="1101" y="1258" width="2" height="30" fill="#c9ced6"/>
<text x="55" y="1281" font-family="'Liberation Serif', 'Noto Serif CJK SC', serif" font-size="23.5" fill="#1e2a3e">指标</text>
<text x="135" y="1281" font-family="'Liberation Serif', 'Noto Serif CJK SC', serif" font-size="23.5" fill="#1e2a3e">模板</text>
<g font-family="'Liberation Serif', serif" font-size="23" fill="#ffffff" stroke="#ffffff" stroke-width="0.3"><text x="215.5" y="1280.5" textLength="11" lengthAdjust="spacingAndGlyphs">V</text><text x="229" y="1280.5" textLength="7.5" lengthAdjust="spacingAndGlyphs">I</text><text x="239.5" y="1280.5" textLength="11" lengthAdjust="spacingAndGlyphs">P</text></g>
<text x="251" y="1281" font-family="'Liberation Serif', 'Noto Serif CJK SC', serif" font-size="23.5" fill="#ffffff">指标</text>
<g font-family="'Liberation Serif', serif" font-size="23" fill="#1e2a3e" stroke="#1e2a3e" stroke-width="0.3"><text x="331.5" y="1280.5" textLength="11" lengthAdjust="spacingAndGlyphs">B</text><text x="343.5" y="1280.5" textLength="11" lengthAdjust="spacingAndGlyphs">A</text><text x="355.5" y="1280.5" textLength="11" lengthAdjust="spacingAndGlyphs">R</text><text x="367.5" y="1280.5" textLength="11" lengthAdjust="spacingAndGlyphs">U</text><text x="379.5" y="1280.5" textLength="11" lengthAdjust="spacingAndGlyphs">P</text><text x="391.5" y="1280.5" textLength="11" lengthAdjust="spacingAndGlyphs">D</text><text x="403.5" y="1280.5" textLength="11" lengthAdjust="spacingAndGlyphs">N</text><text x="415.5" y="1280.5" textLength="11" lengthAdjust="spacingAndGlyphs">_</text><text x="427.5" y="1280.5" textLength="11" lengthAdjust="spacingAndGlyphs">U</text><text x="439.5" y="1280.5" textLength="11" lengthAdjust="spacingAndGlyphs">D</text></g>
<g font-family="'Liberation Serif', serif" font-size="23" fill="#1e2a3e" stroke="#1e2a3e" stroke-width="0.3"><text x="483.5" y="1280.5" textLength="11" lengthAdjust="spacingAndGlyphs">B</text><text x="497" y="1280.5" textLength="7.5" lengthAdjust="spacingAndGlyphs">I</text><text x="507.5" y="1280.5" textLength="11" lengthAdjust="spacingAndGlyphs">A</text><text x="519.5" y="1280.5" textLength="11" lengthAdjust="spacingAndGlyphs">S</text><text x="531.5" y="1280.5" textLength="11" lengthAdjust="spacingAndGlyphs">_</text><text x="543.5" y="1280.5" textLength="11" lengthAdjust="spacingAndGlyphs">U</text><text x="555.5" y="1280.5" textLength="11" lengthAdjust="spacingAndGlyphs">D</text></g>
<g font-family="'Liberation Serif', serif" font-size="23" fill="#1e2a3e" stroke="#1e2a3e" stroke-width="0.3"><text x="599.5" y="1280.5" textLength="11" lengthAdjust="spacingAndGlyphs">B</text><text x="611.5" y="1280.5" textLength="11" lengthAdjust="spacingAndGlyphs">O</text><text x="623.5" y="1280.5" textLength="11" lengthAdjust="spacingAndGlyphs">L</text><text x="635.5" y="1280.5" textLength="11" lengthAdjust="spacingAndGlyphs">L</text><text x="647.5" y="1280.5" textLength="11" lengthAdjust="spacingAndGlyphs">_</text><text x="659.5" y="1280.5" textLength="11" lengthAdjust="spacingAndGlyphs">U</text><text x="671.5" y="1280.5" textLength="11" lengthAdjust="spacingAndGlyphs">D</text></g>
<g font-family="'Liberation Serif', serif" font-size="23" fill="#1e2a3e" stroke="#1e2a3e" stroke-width="0.3"><text x="715.5" y="1280.5" textLength="11" lengthAdjust="spacingAndGlyphs">C</text><text x="727.5" y="1280.5" textLength="11" lengthAdjust="spacingAndGlyphs">C</text><text x="741" y="1280.5" textLength="7.5" lengthAdjust="spacingAndGlyphs">I</text><text x="751.5" y="1280.5" textLength="11" lengthAdjust="spacingAndGlyphs">_</text><text x="763.5" y="1280.5" textLength="11" lengthAdjust="spacingAndGlyphs">U</text><text x="775.5" y="1280.5" textLength="11" lengthAdjust="spacingAndGlyphs">D</text></g>
<g font-family="'Liberation Serif', serif" font-size="23" fill="#1e2a3e" stroke="#1e2a3e" stroke-width="0.3"><text x="819.5" y="1280.5" textLength="11" lengthAdjust="spacingAndGlyphs">D</text><text x="831.5" y="1280.5" textLength="11" lengthAdjust="spacingAndGlyphs">M</text><text x="845" y="1280.5" textLength="7.5" lengthAdjust="spacingAndGlyphs">I</text><text x="855.5" y="1280.5" textLength="11" lengthAdjust="spacingAndGlyphs">_</text><text x="867.5" y="1280.5" textLength="11" lengthAdjust="spacingAndGlyphs">U</text><text x="879.5" y="1280.5" textLength="11" lengthAdjust="spacingAndGlyphs">D</text></g>
<g font-family="'Liberation Serif', serif" font-size="23" fill="#1e2a3e" stroke="#1e2a3e" stroke-width="0.3"><text x="925" y="1280.5" textLength="7.5" lengthAdjust="spacingAndGlyphs">I</text><text x="935.5" y="1280.5" textLength="11" lengthAdjust="spacingAndGlyphs">N</text><text x="947.5" y="1280.5" textLength="11" lengthAdjust="spacingAndGlyphs">S</text><text x="961" y="1280.5" textLength="7.5" lengthAdjust="spacingAndGlyphs">I</text><text x="971.5" y="1280.5" textLength="11" lengthAdjust="spacingAndGlyphs">D</text><text x="983.5" y="1280.5" textLength="11" lengthAdjust="spacingAndGlyphs">E</text><text x="995.5" y="1280.5" textLength="11" lengthAdjust="spacingAndGlyphs">_</text><text x="1007.5" y="1280.5" textLength="11" lengthAdjust="spacingAndGlyphs">U</text><text x="1019.5" y="1280.5" textLength="11" lengthAdjust="spacingAndGlyphs">D</text></g>
<g font-family="'Liberation Serif', serif" font-size="23" fill="#1e2a3e" stroke="#1e2a3e" stroke-width="0.3"><text x="1064.5" y="1280.5" textLength="11" lengthAdjust="spacingAndGlyphs">&gt;</text><text x="1076.5" y="1280.5" textLength="11" lengthAdjust="spacingAndGlyphs">&gt;</text></g>
<text x="1254" y="1264.5" font-family="'Liberation Sans', sans-serif" font-size="31" fill="#c9d3e2" letter-spacing="1.6">FX678</text>
</svg></body></html>
